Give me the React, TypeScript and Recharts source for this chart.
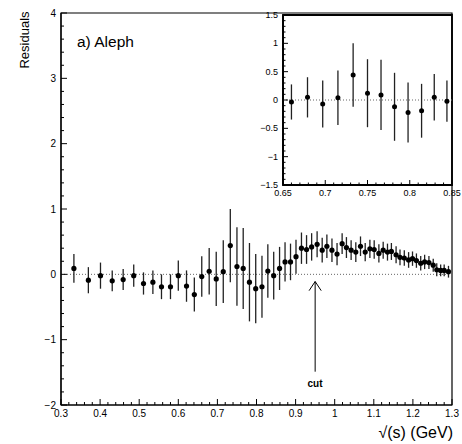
import React from 'react';
import { ScatterChart, Scatter, XAxis, YAxis, ErrorBar, ReferenceLine, ReferenceArea } from 'recharts';

// ---- data ----
const energies = [
  0.333, 0.370, 0.401, 0.431, 0.459, 0.486, 0.511, 0.535, 0.557, 0.580, 0.600, 0.621, 0.641,
  0.660, 0.679, 0.697, 0.715, 0.733, 0.750, 0.766, 0.782, 0.798, 0.814, 0.829, 0.844,
  0.859, 0.873, 0.887, 0.901, 0.915, 0.928, 0.941, 0.955, 0.968, 0.980,
  0.993, 1.006, 1.019, 1.030, 1.042, 1.054, 1.066, 1.078, 1.090, 1.101, 1.113, 1.124, 1.135, 1.145,
  1.157, 1.167, 1.178, 1.189, 1.199, 1.209, 1.220, 1.230, 1.241, 1.252, 1.261, 1.271, 1.280, 1.291,
];
const residuals = [
  0.09, -0.09, -0.02, -0.10, -0.08, -0.02, -0.14, -0.12, -0.19, -0.19, -0.02, -0.18, -0.31,
  -0.035, 0.047, -0.07, 0.04, 0.44, 0.12, 0.09, -0.12, -0.22, -0.19, 0.05, -0.02,
  0.09, 0.19, 0.19, 0.27, 0.40, 0.38, 0.42, 0.46, 0.37, 0.43,
  0.37, 0.31, 0.47, 0.41, 0.37, 0.34, 0.43, 0.34, 0.39, 0.38, 0.32, 0.37, 0.34, 0.35,
  0.30, 0.26, 0.25, 0.22, 0.24, 0.21, 0.17, 0.19, 0.18, 0.14, 0.07, 0.06, 0.06, 0.04,
];
const errors = [
  0.22, 0.20, 0.20, 0.16, 0.16, 0.17, 0.17, 0.18, 0.19, 0.19, 0.23, 0.24, 0.26,
  0.31, 0.355, 0.415, 0.48, 0.56, 0.60, 0.62, 0.60, 0.53, 0.475, 0.41, 0.365,
  0.33, 0.30, 0.28, 0.26, 0.24, 0.22, 0.21, 0.20, 0.19, 0.18,
  0.18, 0.17, 0.16, 0.16, 0.15, 0.15, 0.15, 0.14, 0.14, 0.14, 0.14, 0.13, 0.13, 0.13,
  0.13, 0.12, 0.12, 0.12, 0.11, 0.11, 0.11, 0.11, 0.10, 0.10, 0.10, 0.09, 0.09, 0.09,
];

const mainXTicks = [0.3, 0.4, 0.5, 0.6, 0.7, 0.8, 0.9, 1.0, 1.1, 1.2, 1.3];
const mainYTicks = [-2, -1, 0, 1, 2, 3, 4];
const insetXTicks = [0.65, 0.7, 0.75, 0.8, 0.85];
const insetYTicks = [-1.5, -1, -0.5, 0, 0.5, 1, 1.5];

const cutEnergy = 0.95;

const mainData = energies.map((x, i) => ({ x, y: residuals[i], e: errors[i] }));
const insetData = mainData.filter((d) => d.x >= 0.65 && d.x <= 0.85);

// ---- helpers ----
const FONT = '"Liberation Sans", Arial, Helvetica, sans-serif';

function withMinors(majors: number[], step: number) {
  const first = majors[0];
  const last = majors[majors.length - 1];
  const n = Math.round((last - first) / step);
  return Array.from({ length: n + 1 }, (_, i) => +(first + i * step).toFixed(6));
}
const isMajor = (majors: number[], v: number) => majors.some((m) => Math.abs(m - v) < 1e-6);
const fmt = (v: number) => {
  const s = String(+Math.abs(v).toFixed(2));
  return v < -1e-9 ? '\u2212' + s : s;
};

function makeYTick(majors: number[], majLen: number, minLen: number, fs: number) {
  return (props: any) => {
    const { x, y, payload } = props;
    const v = payload.value;
    const major = isMajor(majors, v);
    return (
      <g>
        <line x1={x} x2={x + (major ? majLen : minLen)} y1={y} y2={y} stroke="#000" strokeWidth={1} />
        {major && (
          <text x={x - 5} y={y} dy={fs * 0.35} textAnchor="end" fontSize={fs} fontFamily={FONT} fill="#000">
            {fmt(v)}
          </text>
        )}
      </g>
    );
  };
}
function makeXTick(majors: number[], majLen: number, minLen: number, fs: number, gap: number) {
  return (props: any) => {
    const { x, y, payload } = props;
    const v = payload.value;
    const major = isMajor(majors, v);
    return (
      <g>
        <line x1={x} x2={x} y1={y} y2={y - (major ? majLen : minLen)} stroke="#000" strokeWidth={1} />
        {major && (
          <text x={x} y={y + gap} textAnchor="middle" fontSize={fs} fontFamily={FONT} fill="#000">
            {fmt(v)}
          </text>
        )}
      </g>
    );
  };
}

const dot = (r: number) => (p: any) => <circle cx={p.cx} cy={p.cy} r={r} fill="#000" />;

export default function App() {
  return (
    <div style={{ position: 'absolute', left: 0, top: 0, width: 462, height: 444, background: '#fff' }}>
      <div style={{ position: 'absolute', left: 0, top: 0 }}>
        <ScatterChart width={462} height={444} margin={{ top: 13, right: 10, left: 0, bottom: 0 }}>
          <XAxis
            type="number"
            dataKey="x"
            domain={[0.3, 1.3]}
            allowDataOverflow
            ticks={withMinors(mainXTicks, 0.02)}
            interval={0}
            tickSize={0}
            tickMargin={0}
            tickLine={false}
            height={39}
            axisLine={{ stroke: '#000', strokeWidth: 1.2 }}
            tick={makeXTick(mainXTicks, 6, 3, 10, 12)}
          />
          <YAxis
            type="number"
            dataKey="y"
            domain={[-2, 4]}
            allowDataOverflow
            ticks={withMinors(mainYTicks, 0.2)}
            interval={0}
            tickSize={0}
            tickMargin={0}
            tickLine={false}
            width={61}
            axisLine={{ stroke: '#000', strokeWidth: 1.2 }}
            tick={makeYTick(mainYTicks, 6, 3, 10)}
          />
          <ReferenceArea x1={0.3} x2={1.3} y1={-2} y2={4} fill="none" stroke="#000" strokeWidth={1.2} />
          <ReferenceLine y={0} stroke="#666" strokeDasharray="1 2" strokeWidth={1} />
          <ReferenceLine
            segment={[{ x: cutEnergy, y: -0.11 }, { x: cutEnergy, y: -1.49 }]}
            stroke="#000"
            strokeWidth={1}
          />
          <ReferenceLine
            segment={[{ x: cutEnergy - 0.0155, y: -0.25 }, { x: cutEnergy, y: -0.11 }]}
            stroke="#000"
            strokeWidth={1}
          />
          <ReferenceLine
            segment={[{ x: cutEnergy + 0.0155, y: -0.25 }, { x: cutEnergy, y: -0.11 }]}
            stroke="#000"
            strokeWidth={1}
          />
          <Scatter data={mainData} isAnimationActive={false} shape={dot(2.6)}>
            <ErrorBar dataKey="e" direction="y" width={0} stroke="#222" strokeWidth={1.3} isAnimationActive={false} />
          </Scatter>
        </ScatterChart>
      </div>
      <div style={{ position: 'absolute', left: 240, top: 0 }}>
        <ScatterChart width={222} height={210} margin={{ top: 15, right: 10, left: 0, bottom: 0 }}>
          <XAxis
            type="number"
            dataKey="x"
            domain={[0.65, 0.85]}
            allowDataOverflow
            ticks={withMinors(insetXTicks, 0.01)}
            interval={0}
            tickSize={0}
            tickMargin={0}
            tickLine={false}
            height={25}
            axisLine={{ stroke: '#000', strokeWidth: 1.8 }}
            tick={makeXTick(insetXTicks, 5, 2.5, 9, 11)}
          />
          <YAxis
            type="number"
            dataKey="y"
            domain={[-1.5, 1.5]}
            allowDataOverflow
            ticks={withMinors(insetYTicks, 0.1)}
            interval={0}
            tickSize={0}
            tickMargin={0}
            tickLine={false}
            width={43}
            axisLine={{ stroke: '#000', strokeWidth: 1.8 }}
            tick={makeYTick(insetYTicks, 5, 2.5, 9)}
          />
          <ReferenceArea x1={0.65} x2={0.85} y1={-1.5} y2={1.5} fill="none" stroke="#000" strokeWidth={1.8} />
          <ReferenceLine y={0} stroke="#666" strokeDasharray="1 2" strokeWidth={1} />
          <Scatter data={insetData} isAnimationActive={false} shape={dot(2.5)}>
            <ErrorBar dataKey="e" direction="y" width={0} stroke="#222" strokeWidth={1.3} isAnimationActive={false} />
          </Scatter>
        </ScatterChart>
      </div>
      <svg width={462} height={444} style={{ position: 'absolute', left: 0, top: 0, pointerEvents: 'none' }}>
        <text x={29} y={40} transform="rotate(-90 29 40)" textAnchor="middle" fontSize={13} fontFamily={FONT} fill="#000">
          Residuals
        </text>
        <text x={77} y={47} fontSize={15.5} fontFamily={FONT} fill="#000">
          a) Aleph
        </text>
        <text x={453} y={438} textAnchor="end" fontSize={16} fontFamily={FONT} fill="#000">
          √(s) (GeV)
        </text>
        <text x={315} y={387} textAnchor="middle" fontSize={10} fontWeight="bold" fontFamily={FONT} fill="#000">
          cut
        </text>
      </svg>
    </div>
  );
}
